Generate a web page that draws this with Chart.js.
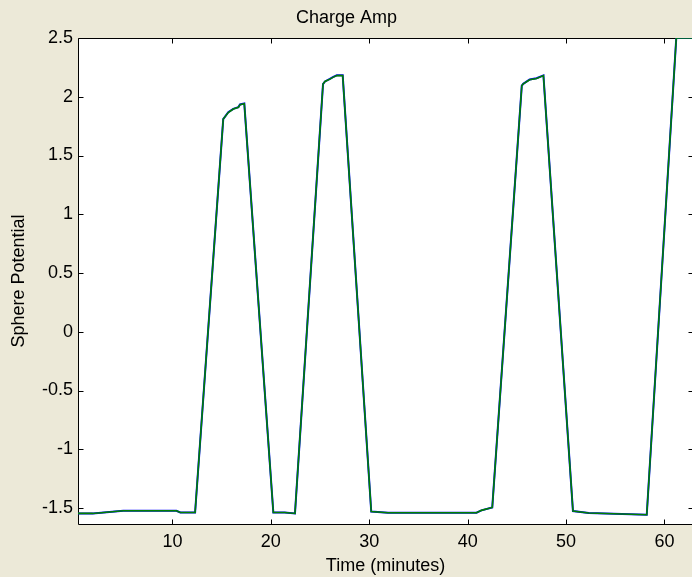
<!DOCTYPE html>
<html>
<head>
<meta charset="utf-8">
<script src="https://cdn.jsdelivr.net/npm/chart.js@4"></script>
<style>
  html, body { margin: 0; padding: 0; overflow: hidden; background: #ECE9D8; }
  canvas { display: block; }
</style>
</head>
<body>
<canvas id="myChart" width="700" height="577"></canvas>
<script>
// Datos (tiempo en minutos, potencial)
const tiempos = [0.4, 1.9, 5.0, 10.4, 10.8, 12.3, 15.16, 15.67, 16.18, 16.7, 16.86, 17.3,
  20.25, 21.4, 22.45, 25.3, 25.5, 26.0, 26.3, 26.7, 27.3, 30.2, 31.9, 40.9, 41.4, 42.5,
  45.5, 45.65, 46.3, 47.0, 47.7, 50.7, 52.3, 58.2, 61.2, 63.0];
const potencialAzul = [-1.546, -1.546, -1.523, -1.523, -1.538, -1.538, 1.81, 1.868, 1.897, 1.912, 1.934, 1.942,
  -1.538, -1.538, -1.546, 2.108, 2.13, 2.152, 2.167, 2.182, 2.182, -1.53, -1.54, -1.54, -1.52, -1.495,
  2.094, 2.11, 2.147, 2.158, 2.182, -1.526, -1.543, -1.557, 2.5, 2.5];
const potencialVerde = [-1.546, -1.546, -1.523, -1.523, -1.538, -1.538, 1.81, 1.866, 1.895, 1.91, 1.932, 1.94,
  -1.538, -1.538, -1.546, 2.108, 2.13, 2.15, 2.165, 2.18, 2.18, -1.53, -1.54, -1.54, -1.52, -1.495,
  2.094, 2.11, 2.145, 2.156, 2.18, -1.526, -1.543, -1.557, 2.5, 2.5];
const xTicks = [10, 20, 30, 40, 50, 60];
const yTicks = [-1.5, -1, -0.5, 0, 0.5, 1, 1.5, 2, 2.5];

const fuente = { family: "'Liberation Sans', Arial, sans-serif", size: 18 };

// Fondo blanco del area, marco y marcas hacia dentro (estilo MATLAB), debajo de las lineas
const ejesMatlab = {
  id: 'ejesMatlab',
  beforeDatasetsDraw(chart) {
    const { ctx, chartArea: a, scales } = chart;
    ctx.save();
    ctx.fillStyle = '#ffffff';
    ctx.fillRect(a.left, a.top, a.right - a.left, a.bottom - a.top);
    const L = Math.round(a.left) + 0.5, R = Math.round(a.right) + 0.5;
    const T = Math.round(a.top) + 0.5, B = Math.round(a.bottom) + 0.5;
    ctx.strokeStyle = '#000000';
    ctx.lineWidth = 1;
    ctx.beginPath();
    ctx.rect(L, T, R - L, B - T);
    const len = 5;
    xTicks.forEach(v => {
      const px = Math.round(scales.x.getPixelForValue(v)) + 0.5;
      ctx.moveTo(px, B); ctx.lineTo(px, B - len);
      ctx.moveTo(px, T); ctx.lineTo(px, T + len);
    });
    yTicks.forEach(v => {
      const py = Math.round(scales.y.getPixelForValue(v)) + 0.5;
      ctx.moveTo(L, py); ctx.lineTo(L + len, py);
      ctx.moveTo(R, py); ctx.lineTo(R - len, py);
    });
    ctx.stroke();
    ctx.restore();
  }
};

const ctx = document.getElementById('myChart').getContext('2d');
new Chart(ctx, {
  type: 'line',
  data: {
    datasets: [
      {
        label: 'Azul',
        data: tiempos.map((t, i) => ({ x: t, y: potencialAzul[i] })),
        borderColor: '#0000ff',
        borderWidth: 2,
        pointRadius: 0,
        tension: 0,
        order: 2
      },
      {
        label: 'Verde',
        data: tiempos.map((t, i) => ({ x: t, y: potencialVerde[i] })),
        borderColor: '#008000',
        borderWidth: 1.6,
        pointRadius: 0,
        tension: 0,
        order: 1
      }
    ]
  },
  options: {
    responsive: false,
    animation: false,
    layout: { padding: { left: 0, right: 7, top: 0, bottom: 0 } },
    plugins: {
      legend: { display: false },
      tooltip: { enabled: false },
      title: {
        display: true,
        text: 'Charge Amp',
        color: '#000000',
        font: { ...fuente, weight: 'normal' },
        padding: { top: 7, bottom: 9.4 }
      }
    },
    scales: {
      x: {
        type: 'linear',
        min: 0.4,
        max: 62.9,
        grid: { display: false, drawTicks: false },
        border: { display: false },
        ticks: {
          stepSize: 10, includeBounds: false, padding: 7, color: '#000000', font: fuente, maxRotation: 0,
          callback: v => String(v)
        },
        title: { display: true, text: 'Time (minutes)', color: '#000000', font: fuente, padding: { top: 0, bottom: 0 } },
        afterFit(scale) { scale.height = 53; }
      },
      y: {
        type: 'linear',
        min: -1.636,
        max: 2.5,
        grid: { display: false, drawTicks: false },
        border: { display: false },
        ticks: {
          stepSize: 0.5, includeBounds: false, padding: 5, color: '#000000', font: fuente,
          callback: v => String(v)
        },
        title: { display: true, text: 'Sphere Potential', color: '#000000', font: fuente, padding: { top: 8, bottom: 0 } },
        afterFit(scale) { scale.width = 78; }
      }
    }
  },
  plugins: [ejesMatlab]
});
</script>
</body>
</html>
